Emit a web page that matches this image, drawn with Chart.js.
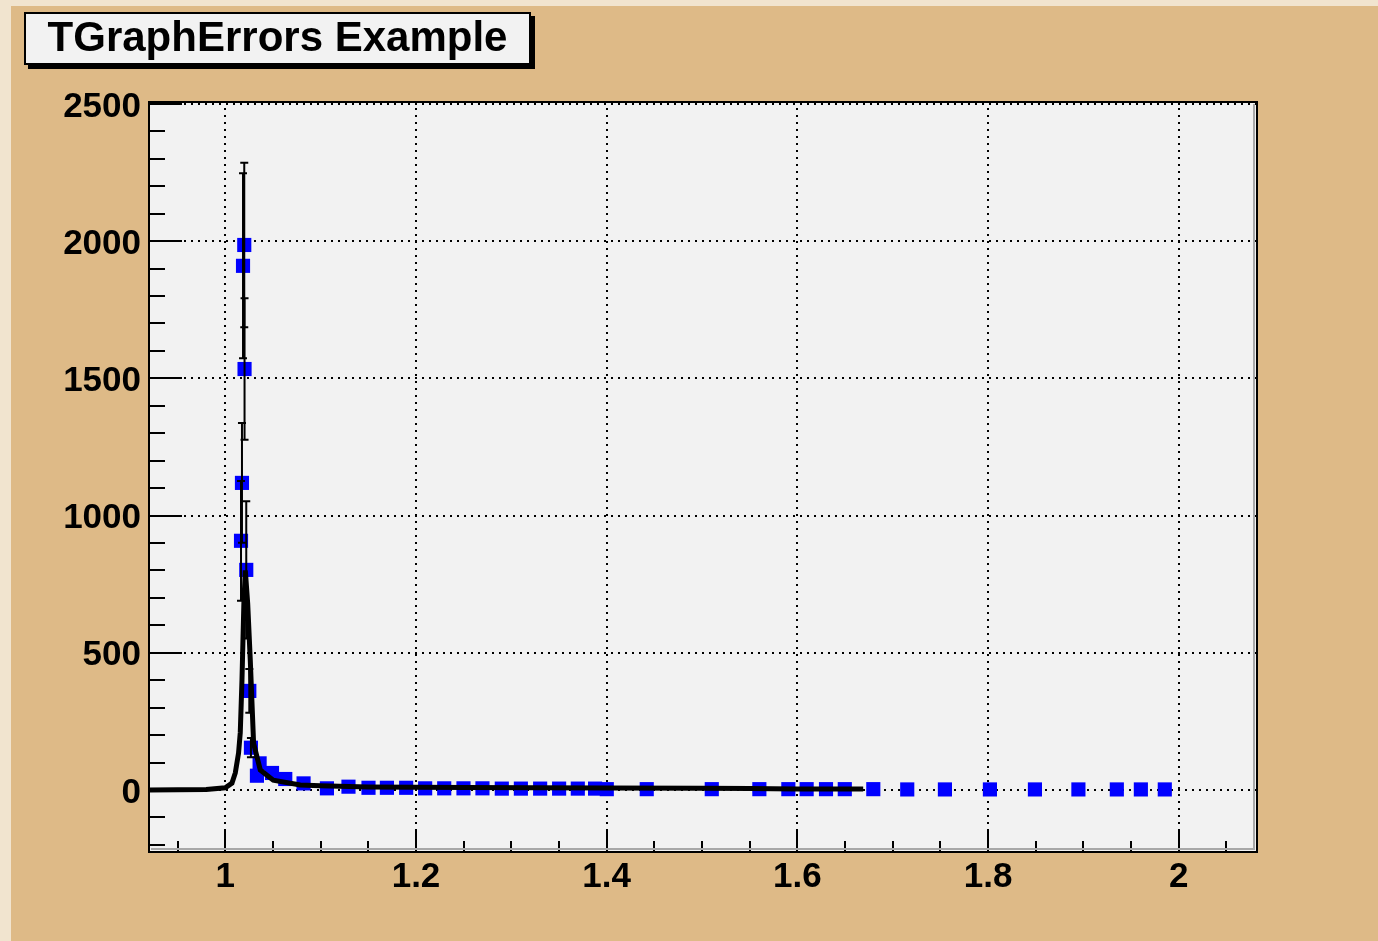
<!DOCTYPE html>
<html>
<head>
<meta charset="utf-8">
<script src="https://cdn.jsdelivr.net/npm/chart.js@4"></script>
<style>
  html, body { margin: 0; padding: 0; background: #f1e4cf; }
  #wrap { position: absolute; left: 0; top: 0; width: 1378px; height: 941px; }
</style>
</head>
<body>
<div id="wrap"><canvas id="c" width="1378" height="941"></canvas></div>
<script>
const title = 'TGraphErrors Example';

// measured points (x, y, y error)
const xVals = [1.0165, 1.0175, 1.0186, 1.0199, 1.0202, 1.0220, 1.0252, 1.0269, 1.0332, 1.0360,
               1.0490, 1.0629, 1.0821, 1.1066, 1.1292, 1.1502, 1.1695, 1.1897, 1.2096, 1.2296,
               1.2498, 1.2697, 1.2900, 1.3100, 1.3302, 1.3501, 1.3697, 1.3878, 1.4001, 1.4420,
               1.5102, 1.5601, 1.5905, 1.6097, 1.6300, 1.6497, 1.6796, 1.7152, 1.7547, 1.8019,
               1.8491, 1.8947, 1.9350, 1.9602, 1.9853];
const yVals = [908, 1119, 1910, 1986, 1534, 802, 361, 154, 52, 97,
               62, 40, 24, 6, 12, 8, 8, 8, 6, 6,
               6, 6, 5, 5, 5, 5, 5, 5, 3, 3,
               3, 3, 3, 3, 3, 3, 3, 2, 2, 2,
               2, 2, 2, 2, 2];
const yErrs = [218, 218, 337, 300, 258, 250, 80, 35, 0, 0,
               0, 0, 0, 0, 0, 0, 0, 0, 0, 0,
               0, 0, 0, 0, 0, 0, 0, 0, 0, 0,
               0, 0, 0, 0, 0, 0, 0, 0, 0, 0,
               0, 0, 0, 0, 0];

// fitted curve
const fitX = [0.92, 0.98, 1.0, 1.007, 1.0105, 1.0139, 1.0157, 1.0175, 1.0195, 1.021, 1.0235,
              1.0262, 1.0297, 1.0367, 1.0503, 1.0786, 1.0996, 1.15, 1.25, 1.4, 1.5, 1.55, 1.6, 1.669];
const fitY = [0, 2, 8, 25, 62, 134, 208, 400, 680, 800, 680,
              474, 170, 73, 36, 18, 15, 11, 9, 7, 6, 5, 4, 4];

const xTicks = [1, 1.2, 1.4, 1.6, 1.8, 2];
const xTickLabels = ['1', '1.2', '1.4', '1.6', '1.8', '2'];
const yTicks = [0, 500, 1000, 1500, 2000, 2500];
const yTickLabels = ['0', '500', '1000', '1500', '2000', '2500'];
const xRange = [0.92, 2.082];
const yRange = [-226, 2507];

const FONT = '"Liberation Sans", Arial, Helvetica, sans-serif';

// background, grid, ticks, frame and title in ROOT style
const rootStyle = {
  id: 'rootStyle',
  beforeDraw(chart) {
    const ctx = chart.ctx, a = chart.chartArea;
    ctx.save();
    ctx.fillStyle = '#f1e4cf';
    ctx.fillRect(0, 0, chart.width, chart.height);
    ctx.fillStyle = 'rgb(222,186,135)';
    ctx.fillRect(11, 6, chart.width - 11, chart.height - 6);
    ctx.fillStyle = '#f2f2f2';
    ctx.fillRect(a.left, a.top, a.right - a.left, a.bottom - a.top);
    ctx.restore();
  },
  beforeDatasetsDraw(chart) {
    const ctx = chart.ctx, a = chart.chartArea;
    const xs = chart.scales.x, ys = chart.scales.y;
    ctx.save();
    ctx.strokeStyle = '#000';
    ctx.lineWidth = 2;
    ctx.setLineDash([2, 5]);
    xTicks.forEach(v => {
      const px = Math.round(xs.getPixelForValue(v));
      ctx.beginPath(); ctx.moveTo(px, a.bottom); ctx.lineTo(px, a.top); ctx.stroke();
    });
    yTicks.forEach(v => {
      const py = Math.round(ys.getPixelForValue(v));
      ctx.beginPath(); ctx.moveTo(a.left, py); ctx.lineTo(a.right, py); ctx.stroke();
    });
    ctx.restore();
  },
  afterDatasetDraw(chart, args) {
    if (args.index !== 1) return;
    const ctx = chart.ctx, a = chart.chartArea;
    const xs = chart.scales.x, ys = chart.scales.y;
    ctx.save();
    ctx.beginPath(); ctx.rect(a.left, a.top, a.right - a.left, a.bottom - a.top); ctx.clip();
    ctx.strokeStyle = '#000';
    ctx.lineWidth = 2;
    xVals.forEach((x, i) => {
      if (!yErrs[i]) return;
      const px = xs.getPixelForValue(x);
      const hi = ys.getPixelForValue(yVals[i] + yErrs[i]);
      const lo = ys.getPixelForValue(yVals[i] - yErrs[i]);
      ctx.beginPath();
      ctx.moveTo(px, hi); ctx.lineTo(px, lo);
      ctx.moveTo(px - 4, hi); ctx.lineTo(px + 4, hi);
      ctx.moveTo(px - 4, lo); ctx.lineTo(px + 4, lo);
      ctx.stroke();
    });
    ctx.restore();
  },
  afterDatasetsDraw(chart) {
    const ctx = chart.ctx, a = chart.chartArea;
    const xs = chart.scales.x, ys = chart.scales.y;
    ctx.save();
    ctx.strokeStyle = '#000';
    ctx.lineWidth = 2;
    // y ticks, every 100 with longer ones every 500
    for (let i = -2; i <= 25; i++) {
      const py = Math.round(ys.getPixelForValue(i * 100));
      const len = i % 5 === 0 ? 33 : 16;
      ctx.beginPath(); ctx.moveTo(a.left, py); ctx.lineTo(a.left + len, py); ctx.stroke();
    }
    // x ticks, every 0.05 with longer ones every 0.2
    for (let i = 19; i <= 41; i++) {
      const px = Math.round(xs.getPixelForValue(i * 0.05));
      const len = i % 4 === 0 ? 22 : 11;
      ctx.beginPath(); ctx.moveTo(px, a.bottom); ctx.lineTo(px, a.bottom - len); ctx.stroke();
    }
    // frame with inner shadow on the right and bottom
    ctx.strokeStyle = '#a8a8a8';
    ctx.beginPath();
    ctx.moveTo(a.right - 3, a.top + 2); ctx.lineTo(a.right - 3, a.bottom - 3); ctx.lineTo(a.left + 2, a.bottom - 3);
    ctx.stroke();
    ctx.strokeStyle = '#000';
    ctx.strokeRect(a.left, a.top, a.right - a.left, a.bottom - a.top);
    ctx.restore();
  },
  afterDraw(chart) {
    const ctx = chart.ctx;
    ctx.save();
    ctx.fillStyle = '#000';
    ctx.fillRect(28, 16, 507, 53);
    ctx.fillStyle = '#f2f2f2';
    ctx.fillRect(24, 12, 507, 53);
    ctx.strokeStyle = '#000';
    ctx.lineWidth = 2;
    ctx.strokeRect(25, 13, 505, 51);
    ctx.fillStyle = '#000';
    ctx.font = 'bold 42px ' + FONT;
    ctx.textAlign = 'center';
    ctx.textBaseline = 'alphabetic';
    ctx.fillText(title, 277.5, 51);
    ctx.restore();
  }
};

new Chart(document.getElementById('c'), {
  type: 'scatter',
  data: {
    datasets: [
      {
        label: 'fit',
        type: 'line',
        data: fitX.map((x, i) => ({ x, y: fitY[i] })),
        borderColor: '#000',
        borderWidth: 5,
        pointRadius: 0,
        tension: 0,
        fill: false
      },
      {
        label: 'points',
        data: xVals.map((x, i) => ({ x, y: yVals[i] })),
        pointStyle: 'rect',
        pointRadius: 10,
        pointBorderWidth: 0,
        backgroundColor: '#0000ff',
        borderColor: '#0000ff'
      }
    ]
  },
  options: {
    responsive: false,
    animation: false,
    devicePixelRatio: 1,
    layout: { padding: { left: 0, top: 102, right: 121, bottom: 0 } },
    plugins: { legend: { display: false }, tooltip: { enabled: false } },
    scales: {
      x: {
        type: 'linear',
        min: xRange[0], max: xRange[1],
        grid: { display: false },
        border: { display: false },
        afterBuildTicks: s => { s.ticks = xTicks.map(v => ({ value: v })); },
        afterFit: s => { s.height = 89; },
        ticks: {
          color: '#000',
          padding: -4,
          font: { family: FONT, size: 35, weight: 'bold' },
          callback: (v) => xTickLabels[xTicks.indexOf(v)]
        }
      },
      y: {
        type: 'linear',
        min: yRange[0], max: yRange[1],
        grid: { display: false },
        border: { display: false },
        afterBuildTicks: s => { s.ticks = yTicks.map(v => ({ value: v })); },
        afterFit: s => { s.width = 149; },
        ticks: {
          color: '#000',
          padding: 0,
          labelOffset: 3,
          font: { family: FONT, size: 35, weight: 'bold' },
          callback: (v) => yTickLabels[yTicks.indexOf(v)]
        }
      }
    }
  },
  plugins: [rootStyle]
});
</script>
</body>
</html>
